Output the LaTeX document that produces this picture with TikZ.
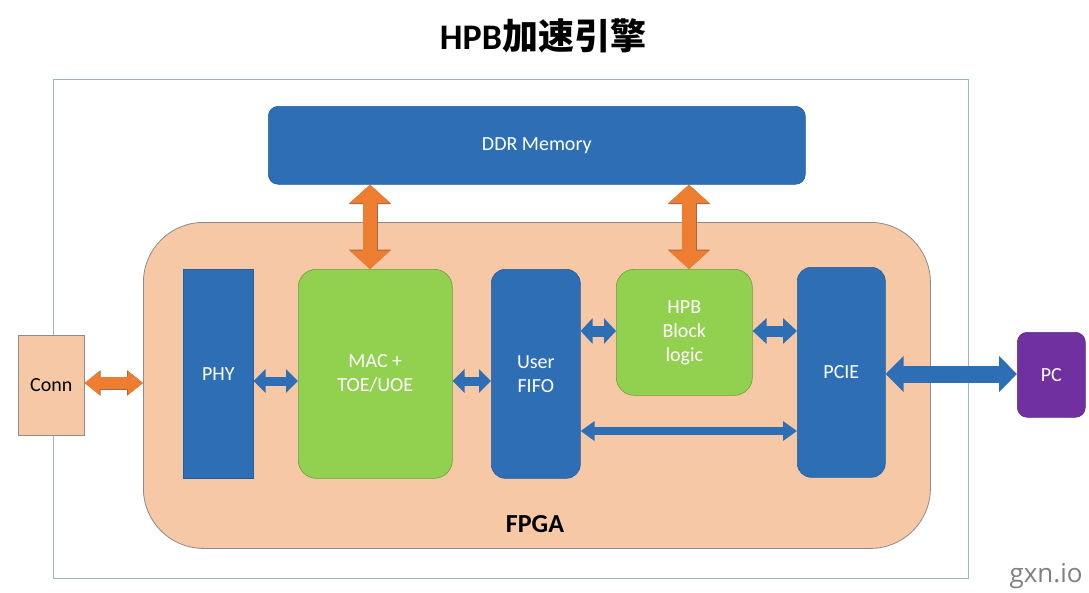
\documentclass[tikz,border=0pt]{standalone}
\usepackage{fontspec}
\setmainfont{Carlito}
\newfontfamily\cjk{Noto Sans CJK SC}
\newfontfamily\wm{Open Sans}
\usetikzlibrary{arrows.meta}
\definecolor{myblue}{HTML}{2E6EB5}
\definecolor{mygreen}{HTML}{92D050}
\definecolor{greenb}{HTML}{6E9E3A}
\definecolor{peach}{HTML}{F7C8A5}
\definecolor{myorange}{HTML}{ED7D31}
\definecolor{mypurple}{HTML}{7030A0}
\definecolor{outerc}{HTML}{9DB3C8}
\definecolor{greyb}{HTML}{8C8C8C}
\definecolor{arrowb}{HTML}{A06A48}
\tikzset{
  box/.style={anchor=north west, inner sep=0pt, align=center, text=white,
    font=\fontsize{20}{24}\selectfont, line width=0.6pt},
  bluebox/.style={box, fill=myblue, draw=myblue!85!black},
  greenbox/.style={box, fill=mygreen, draw=greenb, rounded corners=18pt},
  barr/.style n args={3}{line width=#1,
    {Triangle[width=#2,length=#3]}-{Triangle[width=#2,length=#3]}},
}
\begin{document}
\begin{tikzpicture}[x=1pt,y=-1pt]
\useasboundingbox[fill=white] (0,0) rectangle (1089,592);

% title
\node[font=\fontsize{36}{40}\selectfont\bfseries] (title) at (543,36) {HPB{\cjk\bfseries 加速引擎}};

% outer frame
\node[anchor=north west, inner sep=0pt, draw=outerc, line width=1pt,
  minimum width=915pt, minimum height=499pt] (outer) at (53,79) {};

% FPGA region
\node[anchor=north west, inner sep=0pt, fill=peach, draw=greyb, line width=0.8pt,
  rounded corners=60pt, minimum width=787pt, minimum height=326pt] (fpga) at (143,222) {};
\node[font=\fontsize{26}{30}\selectfont\bfseries] (fpgalbl) at (535,524) {FPGA};

% blocks
\node[bluebox, rounded corners=10pt, minimum width=537pt, minimum height=78pt] (ddr) at (268,106) {DDR Memory};
\node[bluebox, minimum width=70pt, minimum height=209pt] (phy) at (183,269) {PHY};
\node[greenbox, minimum width=154pt, minimum height=209pt] (mac) at (298,269) {MAC +\\TOE/UOE};
\node[bluebox, rounded corners=14pt, minimum width=89pt, minimum height=209pt] (fifo) at (491,269) {User\\FIFO};
\node[greenbox, minimum width=136pt, minimum height=126pt] (hpb) at (616,269) {HPB\\Block\\logic};
\node[bluebox, rounded corners=14pt, minimum width=88pt, minimum height=210pt] (pcie) at (797,267) {PCIE};
\node[box, text=black, fill=peach, draw=greyb, minimum width=66pt, minimum height=100pt] (conn) at (18,335) {Conn};
\node[box, fill=mypurple, draw=mypurple!85!black, rounded corners=10pt, minimum width=68pt, minimum height=85pt] (pc) at (1017,332) {PC};

% watermark
\node[font=\wm\fontsize{26}{30}\selectfont, text=black!50] (wmark) at (1046,576) {gxn.io};

% row / column helpers
\coordinate (rc) at (0,383);
\coordinate (r1) at (0,381);
\coordinate (r2) at (0,331);
\coordinate (r3) at (0,431);
\coordinate (rp) at (0,374);
\coordinate (v1) at (370,0);
\coordinate (v2) at (689,0);

% orange arrows (outline then fill)
\draw[barr={13pt}{24.5pt}{16pt}, draw=arrowb] (conn.east |- rc) -- (fpga.west |- rc);
\draw[barr={12pt}{23pt}{15pt}, draw=myorange] (conn.east |- rc) -- (fpga.west |- rc);
\draw[barr={15pt}{41.5pt}{19.5pt}, draw=arrowb] (ddr.south -| v1) -- (mac.north -| v1);
\draw[barr={14pt}{40pt}{18.5pt}, draw=myorange] (ddr.south -| v1) -- (mac.north -| v1);
\draw[barr={15pt}{41.5pt}{19.5pt}, draw=arrowb] (ddr.south -| v2) -- (hpb.north -| v2);
\draw[barr={14pt}{40pt}{18.5pt}, draw=myorange] (ddr.south -| v2) -- (hpb.north -| v2);

% blue arrows
\draw[barr={9pt}{23pt}{12pt}, draw=myblue] (phy.east |- r1) -- (mac.west |- r1);
\draw[barr={9pt}{23pt}{12pt}, draw=myblue] (mac.east |- r1) -- (fifo.west |- r1);
\draw[barr={11pt}{25pt}{12pt}, draw=myblue] (fifo.east |- r2) -- (hpb.west |- r2);
\draw[barr={11pt}{25pt}{14pt}, draw=myblue] (hpb.east |- r2) -- (pcie.west |- r2);
\draw[barr={8pt}{19pt}{14pt}, draw=myblue] (fifo.east |- r3) -- (pcie.west |- r3);
\draw[barr={17pt}{35pt}{18pt}, draw=myblue] (pcie.east |- rp) -- (pc.west |- rp);
\end{tikzpicture}
\end{document}
